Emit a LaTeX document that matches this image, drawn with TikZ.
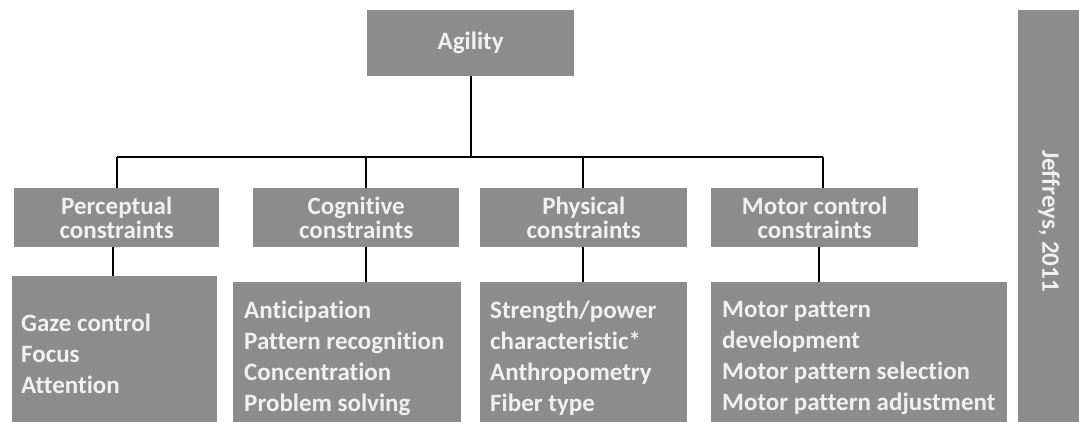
\documentclass[tikz,border=0pt]{standalone}
\usepackage{fontspec}
\setmainfont{Carlito}[Ligatures=NoCommon]
\definecolor{boxgray}{RGB}{140,140,140}
\definecolor{boxtext}{RGB}{240,240,240}
\tikzset{
  gbox/.style={fill=boxgray, draw=none, inner sep=0pt, anchor=north west},
  btext/.style={text=boxtext, font=\fontsize{25}{24}\selectfont\bfseries, inner sep=0pt},
  ltext/.style={btext, align=left, anchor=north west, font=\fontsize{25}{31}\selectfont\bfseries},
  link/.style={draw=black, line width=2.2pt}
}
\begin{document}
\begin{tikzpicture}[x=1pt, y=-1pt]
  \useasboundingbox (0,0) rectangle (1079,421);

  % top node
  \node[gbox, minimum width=207pt, minimum height=66pt] (agility) at (367,10) {};
  \node[btext] (agilityT) at (agility.center) {Agility};

  % constraint groups
  \node[gbox, minimum width=205pt, minimum height=59pt] (perc)  at (14,188)  {};
  \node[gbox, minimum width=206pt, minimum height=59pt] (cogn)  at (253,188) {};
  \node[gbox, minimum width=207pt, minimum height=59pt] (phys)  at (480,188) {};
  \node[gbox, minimum width=207pt, minimum height=59pt] (motor) at (711,188) {};
  \node[btext, align=center] (percT)  at (perc.center)  {Perceptual\\constraints};
  \node[btext, align=center] (cognT)  at (cogn.center)  {Cognitive\\constraints};
  \node[btext, align=center] (physT)  at (phys.center)  {Physical\\constraints};
  \node[btext, align=center] (motorT) at (motor.center) {Motor control\\constraints};

  % detail boxes
  \node[gbox, minimum width=205pt, minimum height=150pt] (percL)  at (12,276)  {};
  \node[gbox, minimum width=228pt, minimum height=144pt] (cognL)  at (233,282) {};
  \node[gbox, minimum width=207pt, minimum height=144pt] (physL)  at (480,282) {};
  \node[gbox, minimum width=296pt, minimum height=144pt] (motorL) at (711,282) {};
  \node[ltext] (percLT)  at (21,314)  {Gaze control\\Focus\\Attention};
  \node[ltext] (cognLT)  at (244,301) {Anticipation\\Pattern recognition\\Concentration\\Problem solving};
  \node[ltext] (physLT)  at (490,301) {Strength/power\\characteristic*\\Anthropometry\\Fiber type};
  \node[ltext] (motorLT) at (722,301) {Motor pattern\\development\\Motor pattern selection\\Motor pattern adjustment};

  % source bar
  \node[gbox, minimum width=61pt, minimum height=412pt] (ref) at (1018,10) {};
  \node[btext, rotate=-90] (refT) at (1049,221) {Jeffreys, 2011};

  % connectors
  \coordinate (barL) at (117,157);
  \coordinate (barR) at (823,157);
  \coordinate (dC) at (366,157);
  \coordinate (dP) at (583,157);
  \coordinate (lP) at (113,0);
  \coordinate (lC) at (366,0);
  \coordinate (lM) at (819,0);
  \draw[link] (agility.south) -- (agility.south |- barL);
  \draw[link] (barL) -- (barR);
  \draw[link] (barL) -- (barL |- perc.north);
  \draw[link] (dC) -- (dC |- cogn.north);
  \draw[link] (dP) -- (dP |- phys.north);
  \draw[link] (barR) -- (barR |- motor.north);
  \draw[link] (lP |- perc.south) -- (lP |- percL.north);
  \draw[link] (lC |- cogn.south) -- (lC |- cognL.north);
  \draw[link] (dP |- phys.south) -- (dP |- physL.north);
  \draw[link] (lM |- motor.south) -- (lM |- motorL.north);
\end{tikzpicture}
\end{document}
